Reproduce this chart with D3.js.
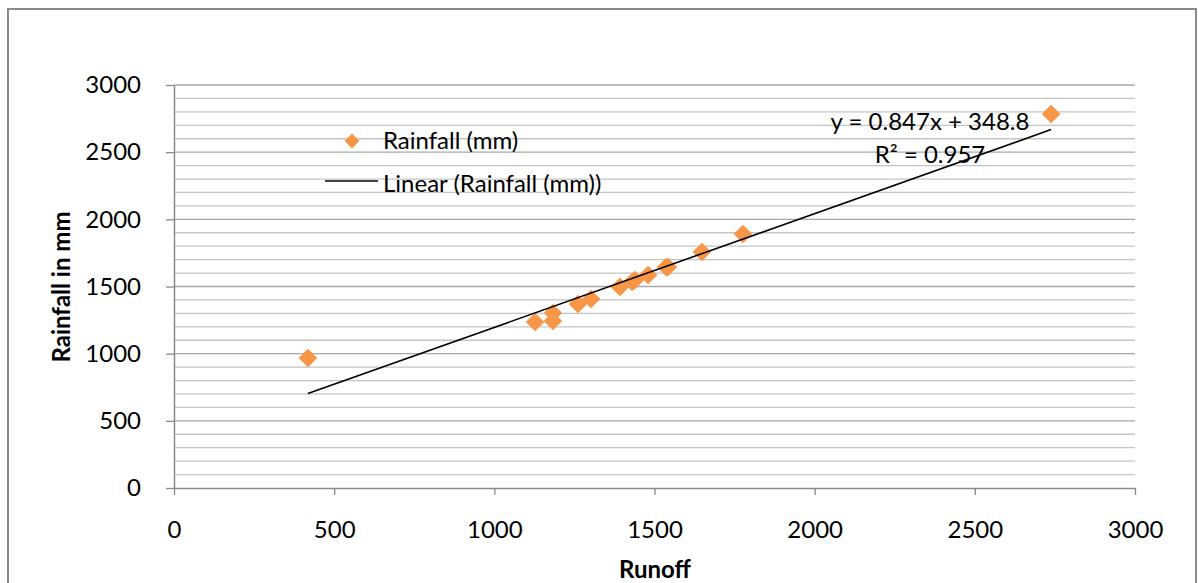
<!DOCTYPE html>
<html>
<head>
<meta charset="utf-8">
<script src="https://cdn.jsdelivr.net/npm/d3@7"></script>
<style>
  body { margin: 0; background: #fff; }
  svg text { font-family: 'Lato', 'Liberation Sans', sans-serif; }
</style>
</head>
<body>
<svg id="chart" width="1198" height="583"></svg>
<script>

// runoff vs rainfall
const runoff   = [418, 1127, 1183, 1183, 1261, 1302, 1392, 1430, 1439, 1480, 1536, 1542, 1648, 1776, 2738]
const rainfall = [968, 1236, 1303, 1243, 1370, 1407, 1496, 1534, 1548, 1586, 1645, 1645, 1757, 1891, 2784]

const xTicks = [0, 500, 1000, 1500, 2000, 2500, 3000]
const yTicks = [0, 500, 1000, 1500, 2000, 2500, 3000]

// trendline from excel
const slope = 0.847
const intercept = 348.8
const rSquared = 0.957

const seriesName = 'Rainfall (mm)'

const svg = d3.select('#chart')

// outer chart frame
svg.append('rect')
  .attr('x', 8)
  .attr('y', 9)
  .attr('width', 1188)
  .attr('height', 600)
  .attr('fill', 'none')
  .attr('stroke', '#8a8a8a')
  .attr('stroke-width', 2)

const x = d3.scaleLinear().domain([0, 3000]).range([174, 1135])
const y = d3.scaleLinear().domain([0, 3000]).range([488, 85])

// gridlines every 100
svg.append('g')
  .selectAll('line')
  .data(d3.range(100, 3001, 100))
  .enter()
  .append('line')
  .attr('x1', x(0))
  .attr('x2', x(3000))
  .attr('y1', d => y(d))
  .attr('y2', d => y(d))
  .attr('stroke', d => d % 500 == 0 ? '#a8a8a8' : '#c4c4c4')
  .attr('stroke-width', 1.3)

// y axis
let yAxis = svg.append('g')
  .attr('transform', `translate(${x(0)},0)`)
  .call(d3.axisLeft(y).tickValues(yTicks).tickFormat(d3.format('d')).tickSize(8).tickPadding(25).tickSizeOuter(0))
yAxis.select('.domain').attr('stroke', '#8a8a8a').attr('stroke-width', 1.5)
yAxis.selectAll('.tick line').attr('stroke', '#8a8a8a').attr('stroke-width', 1.3)
yAxis.selectAll('.tick text')
  .style('font-family', 'Lato')
  .style('font-size', '24px')
  .attr('fill', '#000')

// x axis
let xAxis = svg.append('g')
  .attr('transform', `translate(0,${y(0)})`)
  .call(d3.axisBottom(x).tickValues(xTicks).tickFormat(d3.format('d')).tickSize(7).tickPadding(26).tickSizeOuter(0))
xAxis.select('.domain').attr('stroke', '#8a8a8a').attr('stroke-width', 1.5)
xAxis.selectAll('.tick line').attr('stroke', '#8a8a8a').attr('stroke-width', 1.3)
xAxis.selectAll('.tick text')
  .style('font-family', 'Lato')
  .style('font-size', '24px')
  .attr('fill', '#000')

// axis titles
svg.append('text')
  .attr('transform', `translate(70,287) rotate(-90)`)
  .style('text-anchor', 'middle')
  .style('font-size', '24px')
  .style('font-weight', 'bold')
  .text('Rainfall in mm')

svg.append('text')
  .attr('x', 655)
  .attr('y', 578)
  .style('text-anchor', 'middle')
  .style('font-size', '24px')
  .style('font-weight', 'bold')
  .text('Runoff')

const diamond = d3.symbol().type(d3.symbolDiamond2)

// points
svg.append('g')
  .selectAll('path')
  .data(runoff.map((r, i) => ({r: r, f: rainfall[i]})))
  .enter()
  .append('path')
  .attr('d', diamond.size(220))
  .attr('transform', d => `translate(${x(d.r)},${y(d.f)})`)
  .attr('fill', '#f79646')

// linear trendline over the data range
const xMin = d3.min(runoff), xMax = d3.max(runoff)
svg.append('line')
  .attr('x1', x(xMin))
  .attr('y1', y(slope * xMin + intercept))
  .attr('x2', x(xMax))
  .attr('y2', y(slope * xMax + intercept))
  .attr('stroke', '#000')
  .attr('stroke-width', 1.6)

// equation label
svg.append('text')
  .attr('x', 930)
  .attr('y', 130)
  .style('text-anchor', 'middle')
  .style('font-size', '24px')
  .text(`y = ${slope}x + ${intercept}`)

svg.append('text')
  .attr('x', 930)
  .attr('y', 163)
  .style('text-anchor', 'middle')
  .style('font-size', '24px')
  .text(`R² = ${rSquared}`)

// legend
svg.append('path')
  .attr('d', d3.symbol().type(d3.symbolDiamond2).size(140)())
  .attr('transform', 'translate(352,141)')
  .attr('fill', '#f79646')

svg.append('text')
  .attr('x', 383)
  .attr('y', 149)
  .style('font-size', '24px')
  .text(seriesName)

svg.append('line')
  .attr('x1', 325)
  .attr('x2', 378)
  .attr('y1', 181)
  .attr('y2', 181)
  .attr('stroke', '#000')
  .attr('stroke-width', 1.5)

svg.append('text')
  .attr('x', 383)
  .attr('y', 192)
  .style('font-size', '24px')
  .text(`Linear (${seriesName})`)

</script>
</body>
</html>
